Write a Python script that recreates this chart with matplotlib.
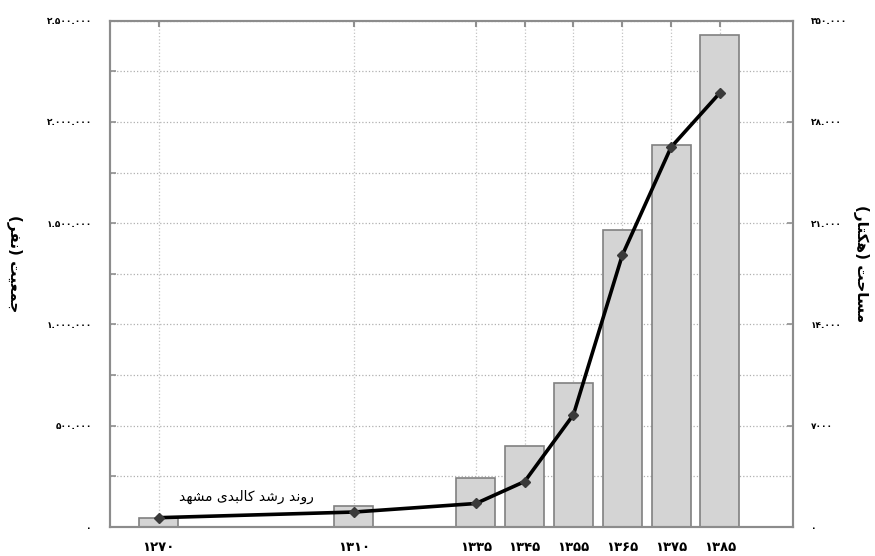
import matplotlib
matplotlib.use('Agg')
from matplotlib import pyplot as plt

# data
years = [1270, 1310, 1335, 1345, 1355, 1365, 1375, 1385]
year_labels = ['۱۲۷۰', '۱۳۱۰', '۱۳۳۵', '۱۳۴۵', '۱۳۵۵', '۱۳۶۵', '۱۳۷۵', '۱۳۸۵']
population = [46000, 102000, 240000, 400000, 712000, 1465000, 1888000, 2427000]
area = [650, 1040, 1630, 3150, 7770, 18780, 26250, 30000]

pop_ticks = [0, 500000, 1000000, 1500000, 2000000, 2500000]
pop_tick_labels = ['۰', '۵۰۰.۰۰۰', '۱.۰۰۰.۰۰۰', '۱.۵۰۰.۰۰۰', '۲.۰۰۰.۰۰۰', '۲.۵۰۰.۰۰۰']
area_ticks = [0, 7000, 14000, 21000, 28000, 35000]
area_tick_labels = ['۰', '۷۰۰۰', '۱۴.۰۰۰', '۲۱.۰۰۰', '۲۸.۰۰۰', '۳۵۰.۰۰۰']

pop_label = 'جمعیت (نفر)'
area_label = 'مساحت (هکتار)'
line_label = 'روند رشد کالبدی مشهد'

# minimal arabic shaping: matplotlib draws glyphs left to right without joining
FORMS = {
    'ج': 'ﺝﺞﺟﺠ', 'م': 'ﻡﻢﻣﻤ', 'ع': 'ﻉﻊﻋﻌ', 'ی': 'ﯼﯽﯾﯿ', 'ت': 'ﺕﺖﺗﺘ',
    'ن': 'ﻥﻦﻧﻨ', 'ف': 'ﻑﻒﻓﻔ', 'س': 'ﺱﺲﺳﺴ', 'ح': 'ﺡﺢﺣﺤ', 'ه': 'ﻩﻪﻫﻬ',
    'ک': 'ﮎﮏﮐﮑ', 'ش': 'ﺵﺶﺷﺸ', 'ل': 'ﻝﻞﻟﻠ', 'ب': 'ﺏﺐﺑﺒ',
    'ا': 'ﺍﺎ', 'ر': 'ﺭﺮ', 'د': 'ﺩﺪ', 'و': 'ﻭﻮ',
}


def shape(text):
    out = []
    for i, ch in enumerate(text):
        if ch not in FORMS:
            out.append(ch)
            continue
        prev = text[i - 1] if i > 0 else ''
        nxt = text[i + 1] if i + 1 < len(text) else ''
        jp = prev in FORMS and len(FORMS[prev]) == 4
        jn = len(FORMS[ch]) == 4 and nxt in FORMS
        f = FORMS[ch]
        if jp and jn:
            out.append(f[3])
        elif jp:
            out.append(f[1])
        elif jn:
            out.append(f[2])
        else:
            out.append(f[0])
    s = ''.join(reversed(out))
    return s.translate(str.maketrans('()', ')('))


plt.rcParams['font.family'] = ['DejaVu Sans']

fig = plt.figure(figsize=(8.75, 5.56), dpi=100)
ax = fig.add_axes([0.1257, 0.052, 0.7806, 0.911])
ax2 = ax.twinx()

ax.bar(years, population, width=8, color='#d4d4d4', edgecolor='#808080', linewidth=1.2, zorder=2)
ax2.plot(years, area, color='black', linewidth=2.6, marker='D', markersize=5.5,
         markerfacecolor='#3a3a3a', markeredgecolor='#3a3a3a', zorder=3)

ax.set_xlim(1260, 1400)
ax.set_ylim(0, 2500000)
ax2.set_ylim(0, 35000)

ax.set_xticks(years)
ax.set_xticklabels(year_labels, fontsize=9.5, fontweight='bold')
ax.set_yticks(pop_ticks)
ax.set_yticklabels(pop_tick_labels, fontsize=6.5, fontweight='bold')
ax.set_yticks(range(250000, 2500000, 500000), minor=True)
ax2.set_yticks(area_ticks)
ax2.set_yticklabels(area_tick_labels, fontsize=6.5, fontweight='bold')

ax.grid(True, which='both', axis='y', linestyle=':', color='#b0b0b0', linewidth=0.9, zorder=0)
ax.grid(True, which='major', axis='x', linestyle=':', color='#c4c4c4', linewidth=0.9, zorder=0)
ax.set_axisbelow(True)

ax.tick_params(axis='x', direction='in', pad=10, top=True, bottom=False, labeltop=False,
               length=4, width=1.5, color='#909090')
ax.tick_params(axis='y', which='both', direction='in', length=4, width=1.2, color='#909090', pad=13)
ax2.tick_params(axis='y', direction='in', length=4, width=1.2, color='#909090', pad=13)

for a in (ax, ax2):
    for sp in a.spines.values():
        sp.set_color('#8c8c8c')
        sp.set_linewidth(1.5)

ax.set_ylabel(shape(pop_label), rotation=270, fontsize=11, fontweight='bold',
              ha='center', va='center')
ax.yaxis.set_label_coords(-0.139, 0.52)
ax2.set_ylabel(shape(area_label), rotation=270, fontsize=11, fontweight='bold',
               ha='center', va='center')
ax2.yaxis.set_label_coords(1.1, 0.52)

ax.text(1288, 150000, shape(line_label), ha='center', va='center', fontsize=10, zorder=4)

fig.savefig('out.png', dpi=100)
plt.close(fig)
